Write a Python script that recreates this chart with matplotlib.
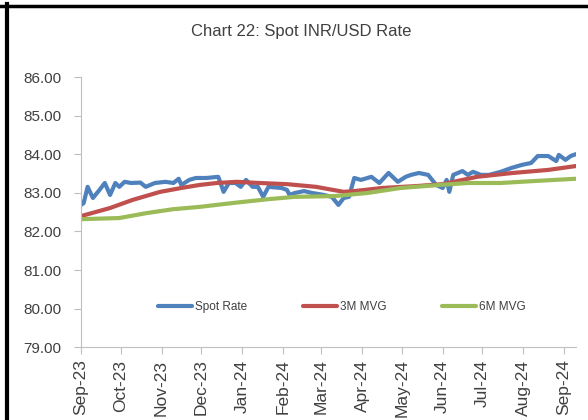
import matplotlib
matplotlib.use("Agg")
import matplotlib.pyplot as plt
import matplotlib.dates as mdates
from matplotlib.lines import Line2D
import pandas as pd

# --- Data ---
spot_dates = [
    "2023-09-01", "2023-09-03", "2023-09-06", "2023-09-10", "2023-09-15",
    "2023-09-19", "2023-09-23", "2023-09-27", "2023-09-30", "2023-10-04",
    "2023-10-09", "2023-10-16", "2023-10-20", "2023-10-27", "2023-11-04",
    "2023-11-10", "2023-11-14", "2023-11-16", "2023-11-22", "2023-11-27",
    "2023-12-05", "2023-12-14", "2023-12-18", "2023-12-22", "2023-12-27",
    "2023-12-31", "2024-01-04", "2024-01-09", "2024-01-13", "2024-01-17",
    "2024-01-21", "2024-01-31", "2024-02-04", "2024-02-06", "2024-02-10",
    "2024-02-17", "2024-02-23", "2024-03-03", "2024-03-09", "2024-03-14",
    "2024-03-18", "2024-03-22", "2024-03-26", "2024-03-31", "2024-04-08",
    "2024-04-14", "2024-04-21", "2024-04-28", "2024-05-04", "2024-05-08",
    "2024-05-14", "2024-05-21", "2024-05-27", "2024-06-01", "2024-06-04",
    "2024-06-06", "2024-06-09", "2024-06-16", "2024-06-20", "2024-06-24",
    "2024-06-30", "2024-07-06", "2024-07-15", "2024-07-23", "2024-07-31",
    "2024-08-07", "2024-08-12", "2024-08-20", "2024-08-26", "2024-08-28",
    "2024-09-02", "2024-09-06", "2024-09-10",
]
spot_rate = [
    82.69, 82.74, 83.16, 82.87, 83.08,
    83.26, 82.95, 83.26, 83.16, 83.29,
    83.26, 83.27, 83.16, 83.26, 83.29,
    83.26, 83.37, 83.21, 83.34, 83.39,
    83.39, 83.42, 83.03, 83.26, 83.26,
    83.16, 83.34, 83.16, 83.16, 82.90,
    83.16, 83.13, 83.08, 82.95, 83.00,
    83.05, 83.00, 82.95, 82.90, 82.69,
    82.87, 82.90, 83.39, 83.34, 83.42,
    83.26, 83.52, 83.29, 83.42, 83.47,
    83.52, 83.47, 83.21, 83.13, 83.34,
    83.03, 83.47, 83.57, 83.47, 83.55,
    83.47, 83.47, 83.55, 83.65, 83.73,
    83.78, 83.96, 83.96, 83.83, 83.99,
    83.86, 83.96, 84.01,
]

mvg3_dates = [
    "2023-09-01", "2023-09-23", "2023-10-10", "2023-10-31", "2023-11-16",
    "2023-11-30", "2023-12-13", "2023-12-28", "2024-01-14", "2024-02-04",
    "2024-02-26", "2024-03-18", "2024-03-26", "2024-04-16", "2024-05-12",
    "2024-06-01", "2024-06-27", "2024-07-24", "2024-08-20", "2024-09-10",
]
mvg3 = [
    82.40, 82.61, 82.82, 83.03, 83.13,
    83.21, 83.26, 83.29, 83.26, 83.23,
    83.16, 83.03, 83.05, 83.13, 83.18,
    83.23, 83.42, 83.52, 83.60, 83.70,
]

mvg6_dates = [
    "2023-09-01", "2023-09-30", "2023-10-21", "2023-11-10", "2023-11-30",
    "2023-12-25", "2024-01-21", "2024-02-10", "2024-03-11", "2024-04-05",
    "2024-04-30", "2024-05-30", "2024-06-20", "2024-07-15", "2024-08-09",
    "2024-09-10",
]
mvg6 = [
    82.32, 82.35, 82.48, 82.58, 82.64,
    82.74, 82.84, 82.90, 82.92, 83.00,
    83.13, 83.21, 83.26, 83.26, 83.31,
    83.37,
]

plt.rcParams["font.family"] = ["Liberation Sans", "DejaVu Sans"]

fig = plt.figure(figsize=(5.88, 4.2), dpi=100)
ax = fig.add_axes([0.1378, 0.1738, 0.9796 - 0.1378, 0.8155 - 0.1738])

ax.plot(pd.to_datetime(spot_dates), spot_rate, color="#4F81BD", lw=3,
        label="Spot Rate", solid_capstyle="round")
ax.plot(pd.to_datetime(mvg3_dates), mvg3, color="#C0504D", lw=3,
        label="3M MVG", solid_capstyle="round")
ax.plot(pd.to_datetime(mvg6_dates), mvg6, color="#9BBB59", lw=3,
        label="6M MVG", solid_capstyle="round")

ax.set_ylim(79, 86)
ax.set_yticks(range(79, 87))
ax.yaxis.set_major_formatter(plt.FormatStrFormatter("%.2f"))
ax.set_xlim(pd.Timestamp("2023-09-01"), pd.Timestamp("2024-09-10"))
ax.xaxis.set_major_locator(mdates.MonthLocator())
ax.xaxis.set_major_formatter(mdates.DateFormatter("%b-%y"))

for s in ["top", "right"]:
    ax.spines[s].set_visible(False)
for s in ["left", "bottom"]:
    ax.spines[s].set_color("#BFBFBF")
ax.tick_params(axis="y", colors="#BFBFBF", labelcolor="#404040",
               labelsize=11, length=5, pad=9)
ax.tick_params(axis="x", colors="#BFBFBF", labelcolor="#404040",
               labelsize=12.5, length=5, pad=4, labelrotation=90)

leg = ax.legend(ncol=3, frameon=False, loc="center",
                bbox_to_anchor=(0.527, 0.148), handlelength=2.9,
                handletextpad=0.25, columnspacing=4.7,
                prop={"size": 8.5})
for t in leg.get_texts():
    t.set_color("#404040")

fig.text(0.512, 0.924, "Chart 22: Spot INR/USD Rate", ha="center",
         va="center", fontsize=12, color="#404040")

# black frame at top and left
fig.add_artist(Line2D([0, 1], [1 - 5.5 / 420] * 2, color="black", lw=2.5,
                      transform=fig.transFigure))
fig.add_artist(Line2D([7 / 588] * 2, [0, 1 - 4 / 420], color="black",
                      lw=3, transform=fig.transFigure))

fig.savefig("out.png", dpi=100)
